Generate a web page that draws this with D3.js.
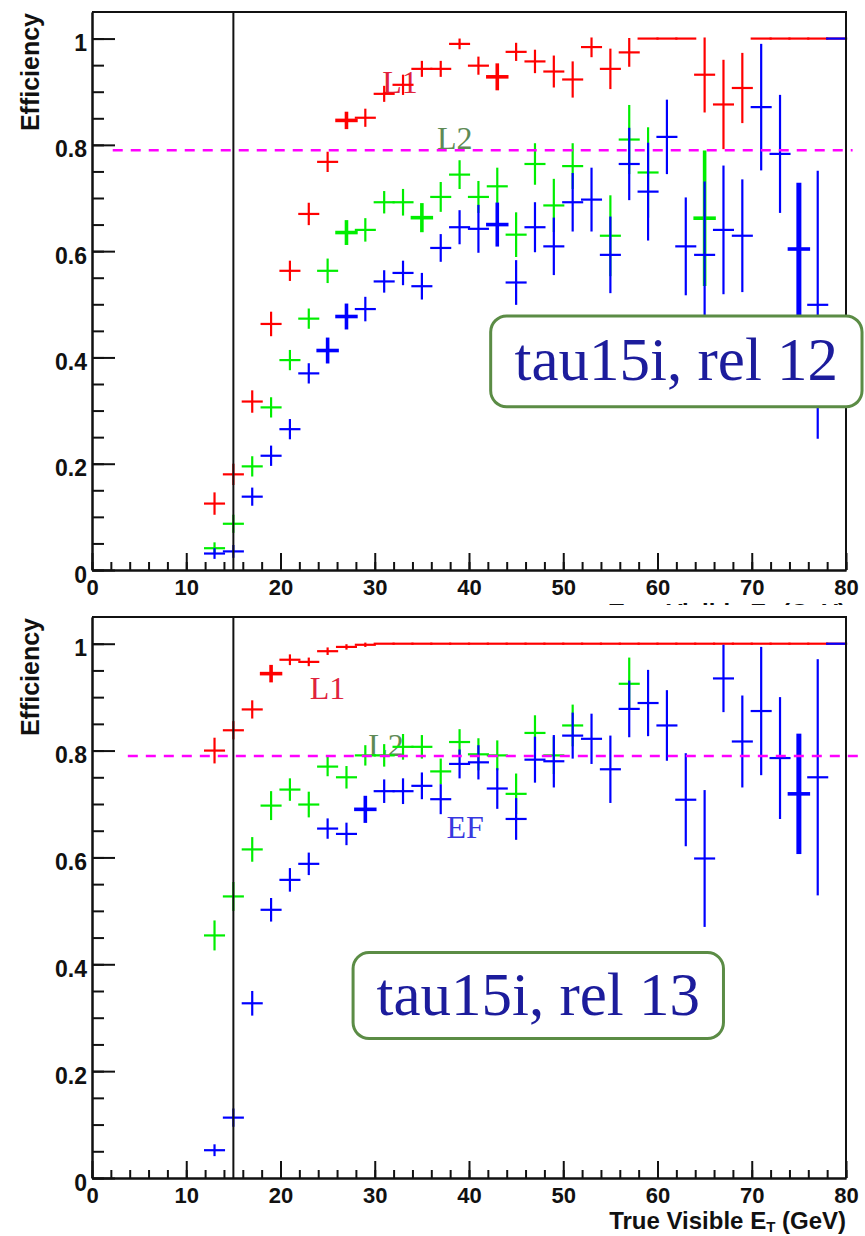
<!DOCTYPE html>
<html>
<head>
<meta charset="utf-8">
<script src="https://cdn.jsdelivr.net/npm/d3@7"></script>
<style>
  body { margin: 0; background: #fff; }
</style>
</head>
<body>
<div id="my_dataviz"></div>
<script>
// * DATA
// bin centres (2 GeV bins) of true visible E_T
var binCenters = [13,15,17,19,21,23,25,27,29,31,33,35,37,39,41,43,45,47,49,51,53,55,57,59,61,63,65,67,69,71,73,75,77,79];

// rel 12 (top)
var rel12_L1     = [0.125,0.180,0.317,0.463,0.563,0.670,0.768,0.846,0.851,0.896,0.913,0.943,0.943,0.990,0.949,0.928,0.975,0.957,0.938,0.923,0.984,0.943,0.974,1,1,1,0.932,0.876,0.907,1,1,1,1,1];
var rel12_L1_err = [0.019,0.018,0.019,0.021,0.017,0.019,0.017,0.013,0.015,0.013,0.017,0.013,0.013,0.008,0.015,0.022,0.015,0.020,0.028,0.032,0.017,0.036,0.025,0,0,0,0.069,0.082,0.064,0,0,0,0,0];
var rel12_L2     = [0.041,0.087,0.195,0.306,0.395,0.473,0.563,0.635,0.640,0.692,0.692,0.663,0.702,0.744,0.702,0.722,0.631,0.764,0.686,0.760,null,0.629,0.810,0.748,null,null,0.662,null,null,null,null,null,null,null];
var rel12_L2_err = [0.009,0.015,0.017,0.017,0.017,0.017,0.021,0.020,0.020,0.019,0.023,0.024,0.026,0.025,0.028,0.033,0.040,0.037,0.048,0.041,0,0.074,0.063,0.083,0,0,0.124,0,0,0,0,0,0,0];
var rel12_EF     = [0.031,0.035,0.138,0.215,0.265,0.370,0.413,0.477,0.491,0.543,0.559,0.534,0.606,0.645,0.642,0.650,0.541,0.645,0.609,0.692,0.697,0.593,0.764,0.712,0.815,0.609,0.593,0.640,0.629,0.871,0.783,0.604,0.499,1];
var rel12_EF_err = [0.008,0.010,0.015,0.017,0.017,0.017,0.021,0.021,0.021,0.019,0.021,0.023,0.024,0.030,0.043,0.038,0.040,0.045,0.052,0.053,0.058,0.070,0.066,0.090,0.068,0.090,0.136,0.119,0.104,0.117,0.109,0.120,0.250,0];

// rel 13 (bottom)
var rel13_L1     = [0.800,0.838,0.877,0.944,0.970,0.966,0.986,0.994,0.998,1,1,1,1,1,1,1,1,1,1,1,1,1,1,1,1,1,1,1,1,1,1,1,1,1];
var rel13_L1_err = [0.022,0.015,0.015,0.013,0.008,0.006,0.005,0.003,0.002,0,0,0,0,0,0,0,0,0,0,0,0,0,0,0,0,0,0,0,0,0,0,0,0,0];
var rel13_L2     = [0.454,0.527,0.615,0.697,0.727,0.699,0.770,0.750,0.791,0.791,0.807,0.807,0.761,0.816,0.793,0.791,0.719,0.833,0.791,0.847,null,null,0.925,null,null,null,null,null,null,null,null,null,null,null];
var rel13_L2_err = [0.026,0.025,0.021,0.025,0.019,0.022,0.016,0.019,0.017,0.019,0.022,0.020,0.022,0.022,0.028,0.026,0.036,0.031,0.033,0.037,0,0,0.047,0,0,0,0,0,0,0,0,0,0,0];
var rel13_EF     = [0.052,0.113,0.327,0.502,0.558,0.588,0.654,0.644,0.690,0.724,0.724,0.734,0.709,0.775,0.778,0.729,0.672,0.783,0.780,0.828,0.822,0.765,0.878,0.889,0.847,0.708,0.598,0.935,0.817,0.874,0.786,0.719,0.750,1];
var rel13_EF_err = [0.009,0.015,0.021,0.020,0.020,0.019,0.017,0.019,0.022,0.020,0.022,0.023,0.026,0.025,0.030,0.036,0.037,0.041,0.047,0.041,0.045,0.061,0.051,0.060,0.064,0.085,0.126,0.061,0.084,0.118,0.112,0.108,0.219,0];

var xTicks = [0,10,20,30,40,50,60,70,80];
var yTicks = [0,0.2,0.4,0.6,0.8,1];
var yTickLabels = ["0","0.2","0.4","0.6","0.8","1"];
var cutEt = 15;      // vertical threshold line
var cutEff = 0.79;   // dashed reference line

// * LAYOUT
var W = 865, H = 1236;
var plotLeft = 92, plotRight = 846;
var sansBold = "'Liberation Sans', Arial, Helvetica, sans-serif";
var serif = "'Liberation Serif', 'Times New Roman', serif";

var svg = d3.select("#my_dataviz")
.append("svg")
.attr("width", W)
.attr("height", H)
.style("background", "#fff");

// the top panel's x title is hidden under the bottom panel, only its top shows
var clip = svg.append("defs").append("clipPath")
.attr("id", "topTitleClip")
.append("rect")
.attr("x", 0).attr("y", 0).attr("width", W).attr("height", 605);

var panels = [
  {top: 12, bottom: 570,
   L1: rel12_L1, L1e: rel12_L1_err, L2: rel12_L2, L2e: rel12_L2_err, EF: rel12_EF, EFe: rel12_EF_err,
   bold: {L1: [27, 43], L2: [27, 35, 65], EF: [25, 27, 43, 75]},
   dash: [2.2, 80.7], clipTitle: true,
   labels: [{t: "L1", x: 30.8, y: 0.898, c: "#e0223c"}, {t: "L2", x: 36.6, y: 0.793, c: "#5e8a55"}],
   box: {t: "tau15i, rel 12", x0: 42.3, x1: 81.7, y0: 0.478, y1: 0.307}},
  {top: 617, bottom: 1178,
   L1: rel13_L1, L1e: rel13_L1_err, L2: rel13_L2, L2e: rel13_L2_err, EF: rel13_EF, EFe: rel13_EF_err,
   bold: {L1: [19], L2: [], EF: [29, 75]},
   dash: [3.8, 82.1], clipTitle: false,
   labels: [{t: "L1", x: 23.1, y: 0.896, c: "#e0223c"}, {t: "L2", x: 29.3, y: 0.789, c: "#5e8a55"}, {t: "EF", x: 37.6, y: 0.636, c: "#3838e0"}],
   box: {t: "tau15i, rel 13", x0: 27.7, x1: 67.0, y0: 0.422, y1: 0.261}}
];

function drawSeries(g, x, y, vals, errs, color, bold) {
  var pts = binCenters.map(function(c, i) { return {c: c, v: vals[i], e: errs[i]}; })
  .filter(function(d) { return d.v != null; });
  var width = function(d) { return bold.indexOf(d.c) < 0 ? 2.2 : (d.c == 75 ? 5 : 3.6); };
  var s = g.append("g").attr("stroke", color).attr("stroke-linecap", "square");
  // horizontal bin-width bars
  s.selectAll("hbar")
  .data(pts)
  .enter()
  .append("line")
    .attr("x1", function(d) { return x(d.c - 1); })
    .attr("x2", function(d) { return x(d.c + 1); })
    .attr("y1", function(d) { return y(d.v); })
    .attr("y2", function(d) { return y(d.v); })
    .attr("stroke-width", function(d) { return Math.min(width(d), 3.6); });
  // vertical error bars
  s.selectAll("vbar")
  .data(pts.filter(function(d) { return d.e > 0; }))
  .enter()
  .append("line")
    .attr("x1", function(d) { return x(d.c); })
    .attr("x2", function(d) { return x(d.c); })
    .attr("y1", function(d) { return y(d.v - d.e); })
    .attr("y2", function(d) { return y(Math.min(d.v + d.e, 1.0)); })
    .attr("stroke-width", width);
}

function drawPanel(p) {
  var x = d3.scaleLinear().domain([0, 80]).range([plotLeft, plotRight]);
  var y = d3.scaleLinear().domain([0, 1.05]).range([p.bottom, p.top]);
  var g = svg.append("g");

  // text labels L1 / L2 / EF
  g.selectAll("lbl")
  .data(p.labels)
  .enter()
  .append("text")
    .attr("x", function(d) { return x(d.x); })
    .attr("y", function(d) { return y(d.y); })
    .attr("fill", function(d) { return d.c; })
    .style("font-family", serif)
    .style("font-size", "32px")
    .text(function(d) { return d.t; });

  // points: L1 red, L2 green, EF blue
  drawSeries(g, x, y, p.L1, p.L1e, "#ff0000", p.bold.L1);
  drawSeries(g, x, y, p.L2, p.L2e, "#00ee00", p.bold.L2);
  drawSeries(g, x, y, p.EF, p.EFe, "#0000ff", p.bold.EF);

  // threshold line
  g.append("line")
  .attr("x1", x(cutEt)).attr("x2", x(cutEt))
  .attr("y1", y(1.05)).attr("y2", y(0))
  .attr("stroke", "#111").attr("stroke-width", 2);

  // dashed 0.79 line
  g.append("line")
  .attr("x1", x(p.dash[0])).attr("x2", x(p.dash[1]))
  .attr("y1", y(cutEff)).attr("y2", y(cutEff))
  .attr("stroke", "#ff00ff").attr("stroke-width", 2.5)
  .attr("stroke-dasharray", "10,8");

  // frame top + right
  g.append("path")
  .attr("d", "M" + plotLeft + "," + p.top + "H" + plotRight + "V" + p.bottom)
  .attr("fill", "none").attr("stroke", "#111").attr("stroke-width", 2);

  // x axis, minor + major ticks pointing in
  var xMinor = g.append("g")
  .attr("transform", "translate(0," + p.bottom + ")")
  .call(d3.axisBottom(x).tickValues(d3.range(0, 81, 2)).tickSizeInner(-8).tickSizeOuter(0).tickFormat(""));
  var xMajor = g.append("g")
  .attr("transform", "translate(0," + p.bottom + ")")
  .call(d3.axisBottom(x).tickValues(xTicks).tickSizeInner(-17).tickSizeOuter(0).tickPadding(9));

  // y axis
  var yMinor = g.append("g")
  .attr("transform", "translate(" + plotLeft + ",0)")
  .call(d3.axisLeft(y).tickValues(d3.range(0, 1.01, 0.05)).tickSizeInner(-12).tickSizeOuter(0).tickFormat(""));
  var yMajor = g.append("g")
  .attr("transform", "translate(" + plotLeft + ",0)")
  .call(d3.axisLeft(y).tickValues(yTicks).tickSizeInner(-23).tickSizeOuter(0).tickPadding(5)
    .tickFormat(function(d, i) { return yTickLabels[i]; }));

  [xMinor, xMajor, yMinor, yMajor].forEach(function(a) {
    a.select(".domain").attr("stroke", "#111").attr("stroke-width", 2);
    a.selectAll(".tick line").attr("stroke", "#111").attr("stroke-width", 2);
  });
  xMajor.selectAll("text")
  .attr("fill", "#111")
  .style("font-family", sansBold).style("font-weight", "bold").style("font-size", "22px");
  yMajor.selectAll("text")
  .attr("fill", "#111")
  .attr("dy", "12px")
  .style("font-family", sansBold).style("font-weight", "bold").style("font-size", "23px");

  // axis titles
  g.append("text")
  .attr("transform", "translate(39," + (p.top + 1) + ") rotate(-90)")
  .attr("text-anchor", "end")
  .attr("fill", "#111")
  .style("font-family", sansBold).style("font-weight", "bold").style("font-size", "25px")
  .text("Efficiency");

  var xt = g.append("text")
  .attr("x", plotRight).attr("y", p.bottom + 51)
  .attr("text-anchor", "end")
  .attr("fill", "#111")
  .style("font-family", sansBold).style("font-weight", "bold").style("font-size", "24px");
  xt.append("tspan").text("True Visible E");
  xt.append("tspan").attr("dy", 3).style("font-size", "15px").text("T");
  xt.append("tspan").attr("dy", -3).text(" (GeV)");
  if (p.clipTitle) xt.attr("clip-path", "url(#topTitleClip)");

  // rounded label box
  var b = p.box;
  g.append("rect")
  .attr("x", x(b.x0)).attr("y", y(b.y0))
  .attr("width", x(b.x1) - x(b.x0)).attr("height", y(b.y1) - y(b.y0))
  .attr("rx", 16)
  .attr("fill", "#fff").attr("stroke", "#5b8c45").attr("stroke-width", 3);
  g.append("text")
  .attr("x", (x(b.x0) + x(b.x1)) / 2)
  .attr("y", (y(b.y0) + y(b.y1)) / 2 + 19)
  .attr("text-anchor", "middle")
  .attr("fill", "#1c1c9c")
  .style("font-family", serif).style("font-size", "61px")
  .text(b.t);
}

panels.forEach(drawPanel);
</script>
</body>
</html>
